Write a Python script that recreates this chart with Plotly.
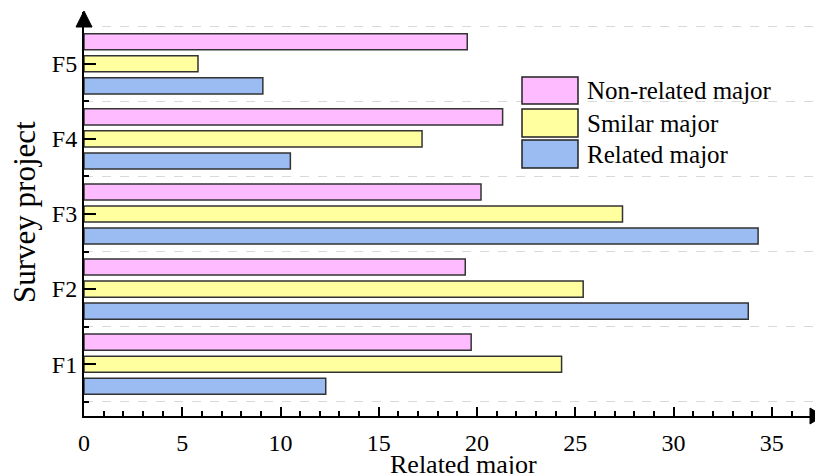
import plotly.graph_objects as go

categories = ["F1", "F2", "F3", "F4", "F5"]
series_names = ["Related major", "Smilar major", "Non-related major"]
related = [12.3, 33.8, 34.3, 10.5, 9.1]
similar = [24.3, 25.4, 27.4, 17.2, 5.8]
nonrelated = [19.7, 19.4, 20.2, 21.3, 19.5]
series_values = [related, similar, nonrelated]
colors = ["#9bbbf3", "#ffffa0", "#ffbbff"]
x_ticks = [0, 5, 10, 15, 20, 25, 30, 35]

FONT = "Liberation Serif, Times New Roman, serif"
# page is 823x474; the html body has an 8px margin, so the figure is offset by 8px
OFF = 8
PAGE_W, PAGE_H = 823, 474
W, H = PAGE_W - OFF, PAGE_H - OFF
PLOT_L, PLOT_R, PLOT_T, PLOT_B = 84, 821, 12, 416  # page coordinates of plot area
ML, MR, MT, MB = PLOT_L - OFF, PAGE_W - PLOT_R, PLOT_T - OFF, PAGE_H - PLOT_B
PW, PH = PLOT_R - PLOT_L, PLOT_B - PLOT_T


def px(x):
    return (x - PLOT_L) / PW


def py(y):
    return (PLOT_B - y) / PH


ypos = list(range(len(categories)))

fig = go.Figure()
for name, vals, col in zip(series_names, series_values, colors):
    fig.add_trace(go.Bar(
        y=ypos, x=vals, name=name, orientation="h",
        marker=dict(color=col, line=dict(color="#333333", width=1.5)),
        showlegend=False,
    ))

boundaries = [i - 0.5 for i in range(len(categories) + 1)]

fig.update_layout(
    width=W, height=H,
    margin=dict(l=ML, r=MR, t=MT, b=MB, autoexpand=False),
    paper_bgcolor="white", plot_bgcolor="white",
    barmode="group", bargap=0.12, bargroupgap=0.27,
    font=dict(family=FONT, color="black", size=24),
    xaxis=dict(
        range=[0, 37.5], tickvals=x_ticks, ticktext=[str(t) for t in x_ticks],
        ticks="inside", ticklen=9, tickwidth=2, tickcolor="black",
        showline=True, linecolor="black", linewidth=2,
        showgrid=False, zeroline=False, automargin=False,
        minor=dict(dtick=1, tick0=0, ticks="inside", ticklen=5, tickwidth=1.5,
                   tickcolor="black", showgrid=False),
        tickfont=dict(size=24, family=FONT),
        ticklabelstandoff=4,
    ),
    yaxis=dict(
        range=[-0.69, 4.69], tickvals=ypos, ticktext=categories,
        ticks="inside", ticklen=12, tickwidth=2, tickcolor="black",
        showline=True, linecolor="black", linewidth=2,
        showgrid=False, zeroline=False, automargin=False,
        minor=dict(tickvals=boundaries, ticks="inside", ticklen=5, tickwidth=1.5,
                   tickcolor="black", showgrid=True, gridcolor="#d9d9d9",
                   griddash="dash", gridwidth=1),
        tickfont=dict(size=24, family=FONT),
    ),
)

# axis titles
fig.add_annotation(text="Related major", xref="paper", yref="paper",
                   x=px(463), y=py(465), showarrow=False,
                   font=dict(size=26, family=FONT), xanchor="center", yanchor="middle")
fig.add_annotation(text="Survey project", xref="paper", yref="paper",
                   x=px(24), y=py(212), showarrow=False, textangle=-90,
                   font=dict(size=31, family=FONT), xanchor="center", yanchor="middle")

# arrows at axis ends
fig.add_shape(type="path", xref="paper", yref="paper",
              path=f"M {px(76)} {py(27)} L {px(92)} {py(27)} L {px(84)} {py(11)} Z",
              fillcolor="black", line=dict(color="black", width=1))
fig.add_shape(type="path", xref="paper", yref="paper",
              path=f"M {px(810)} {py(408)} L {px(810)} {py(424)} L {px(823)} {py(416)} Z",
              fillcolor="black", line=dict(color="black", width=1))

# custom legend (top entry = last series)
rows = [(77, 104), (109, 137), (140, 168)]
for (y0, y1), name, col in zip(rows, series_names[::-1], colors[::-1]):
    fig.add_shape(type="rect", xref="paper", yref="paper",
                  x0=px(522), x1=px(578), y0=py(y1), y1=py(y0),
                  fillcolor=col, line=dict(color="#222222", width=1.5))
    fig.add_annotation(text=name, xref="paper", yref="paper",
                       x=px(585), y=py((y0 + y1) / 2), showarrow=False,
                       xanchor="left", yanchor="middle",
                       font=dict(size=25, family=FONT))

fig.write_html("out.html")
